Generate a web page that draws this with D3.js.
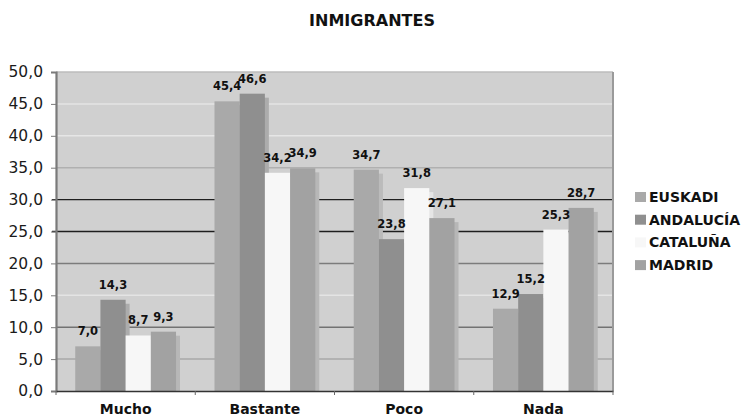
<!DOCTYPE html>
<html>
<head>
<meta charset="utf-8">
<script src="https://cdn.jsdelivr.net/npm/d3@7"></script>
<style>
  html, body { margin: 0; padding: 0; background: #fff; }
  svg { display: block; font-family: "DejaVu Sans", Verdana, sans-serif; }
</style>
</head>
<body>
<svg id="chart" width="742" height="417"></svg>
<script>
// Survey answers about immigrants, by region
const categories = ["Mucho", "Bastante", "Poco", "Nada"];
const seriesNames = ["EUSKADI", "ANDALUCÍA", "CATALUÑA", "MADRID"];
const euskadi   = [7.0, 45.4, 34.7, 12.9];
const andalucia = [14.3, 46.6, 23.8, 15.2];
const cataluna  = [8.7, 34.2, 31.8, 25.3];
const madrid    = [9.3, 34.9, 27.1, 28.7];
const yTicks = [0, 5, 10, 15, 20, 25, 30, 35, 40, 45, 50];
const title = "INMIGRANTES";

const seriesValues = [euskadi, andalucia, cataluna, madrid];
const fills = ["#a9a9a9", "#8f8f8f", "#f7f7f7", "#a2a2a2"];
const plotBg = "#d0d0d0";

const svg = d3.select("#chart");
const plotLeft = 56, plotRight = 613, plotTop = 72, plotBottom = 391;

const x = d3.scaleBand().domain(categories).range([plotLeft, plotRight]).padding(0);
const xs = d3.scaleBand().domain(seriesNames).range([0, x.bandwidth()])
  .paddingInner(0).paddingOuter(0.763);
const y = d3.scaleLinear().domain([0, 50]).range([plotBottom, plotTop]);

const fmt = v => d3.format(".1f")(v).replace(".", ",");

// title
svg.append("text")
  .attr("x", 372).attr("y", 25.5)
  .attr("text-anchor", "middle")
  .attr("font-size", 16).attr("font-weight", "bold")
  .attr("fill", "#111")
  .text(title);

// plot background
svg.append("rect")
  .attr("x", plotLeft).attr("y", plotTop)
  .attr("width", plotRight - plotLeft).attr("height", plotBottom - plotTop)
  .attr("fill", plotBg);

// gridlines: each level has its own tone
const gridTone = {5: "#a8a8a8", 10: "#727272", 15: "#e4e4e4", 20: "#7c7c7c",
  25: "#1e1e1e", 30: "#1e1e1e", 35: "#b0b0b0", 40: "#e6e6e6", 45: "#e4e4e4"};
svg.append("g").selectAll("line")
  .data(yTicks.filter(t => t > 0 && t < 50))
  .join("line")
  .attr("x1", d => (d === 25 || d === 30) ? plotLeft - 4 : plotLeft)
  .attr("x2", plotRight)
  .attr("y1", d => y(d)).attr("y2", d => y(d))
  .attr("stroke", d => gridTone[d])
  .attr("stroke-width", d => (d === 25 || d === 30) ? 1.3 : 1.5);

// top and right frame
svg.append("line").attr("x1", plotLeft).attr("x2", plotRight)
  .attr("y1", plotTop).attr("y2", plotTop)
  .attr("stroke", "#bdbdbd").attr("stroke-width", 1.5);
svg.append("line").attr("x1", plotRight).attr("x2", plotRight)
  .attr("y1", plotTop).attr("y2", plotBottom)
  .attr("stroke", "#9a9a9a").attr("stroke-width", 2);

// bars: drop shadows first, then the bars on top
const barData = [];
categories.forEach((c, i) => {
  seriesNames.forEach((s, j) => {
    barData.push({cat: c, series: s, value: seriesValues[j][i], fill: fills[j]});
  });
});

const bars = svg.append("g");
bars.selectAll("rect.shadow")
  .data(barData)
  .join("rect")
  .attr("class", "shadow")
  .attr("x", d => x(d.cat) + xs(d.series) + 4)
  .attr("y", d => y(d.value) + 4)
  .attr("width", xs.bandwidth())
  .attr("height", d => plotBottom - y(d.value) - 4)
  .attr("fill", d => d3.interpolateRgb(d.fill, plotBg)(0.45));

bars.selectAll("rect.bar")
  .data(barData)
  .join("rect")
  .attr("class", "bar")
  .attr("x", d => x(d.cat) + xs(d.series))
  .attr("y", d => y(d.value))
  .attr("width", xs.bandwidth())
  .attr("height", d => plotBottom - y(d.value))
  .attr("fill", d => d.fill);

// value labels
svg.append("g").selectAll("text")
  .data(barData)
  .join("text")
  .attr("x", d => x(d.cat) + xs(d.series) + xs.bandwidth() / 2)
  .attr("y", d => y(d.value) - 11)
  .attr("text-anchor", "middle")
  .attr("font-size", 11.5).attr("font-weight", "bold")
  .attr("fill", "#111")
  .text(d => fmt(d.value));

// y axis
const yAxis = svg.append("g")
  .attr("transform", `translate(${plotLeft},0)`)
  .call(d3.axisLeft(y).tickValues(yTicks).tickSize(5).tickPadding(8).tickFormat(fmt));
yAxis.select(".domain").attr("stroke", "#7a7a7a").attr("stroke-width", 2.2);
yAxis.selectAll(".tick line").attr("stroke", "#7a7a7a");
yAxis.selectAll(".tick text")
  .attr("font-size", 15.5).attr("fill", "#1a1a1a")
  .attr("font-family", "'DejaVu Sans', Verdana, sans-serif");

// x axis
const xAxis = svg.append("g")
  .attr("transform", `translate(0,${plotBottom})`)
  .call(d3.axisBottom(x).tickSize(0).tickPadding(13));
xAxis.select(".domain").attr("stroke", "#333").attr("stroke-width", 1.6);
xAxis.selectAll(".tick text")
  .attr("font-size", 14).attr("font-weight", "bold").attr("fill", "#111")
  .attr("font-family", "'DejaVu Sans', Verdana, sans-serif");

// category separators below the axis
const seps = x.domain().map(c => x(c)).concat([plotRight]);
svg.append("g").selectAll("line")
  .data(seps)
  .join("line")
  .attr("x1", d => d).attr("x2", d => d)
  .attr("y1", plotBottom).attr("y2", plotBottom + 4)
  .attr("stroke", "#666");

// legend
const legend = svg.append("g").attr("transform", "translate(635,197)");
const item = legend.selectAll("g")
  .data(seriesNames)
  .join("g")
  .attr("transform", (d, i) => `translate(0,${i * 22.7})`);
item.append("rect")
  .attr("x", 0).attr("y", -5)
  .attr("width", 11).attr("height", 10)
  .attr("fill", (d, i) => fills[i]);
item.append("text")
  .attr("x", 14).attr("y", 5)
  .attr("font-size", 14).attr("font-weight", "bold").attr("fill", "#111")
  .text(d => d);
</script>
</body>
</html>
